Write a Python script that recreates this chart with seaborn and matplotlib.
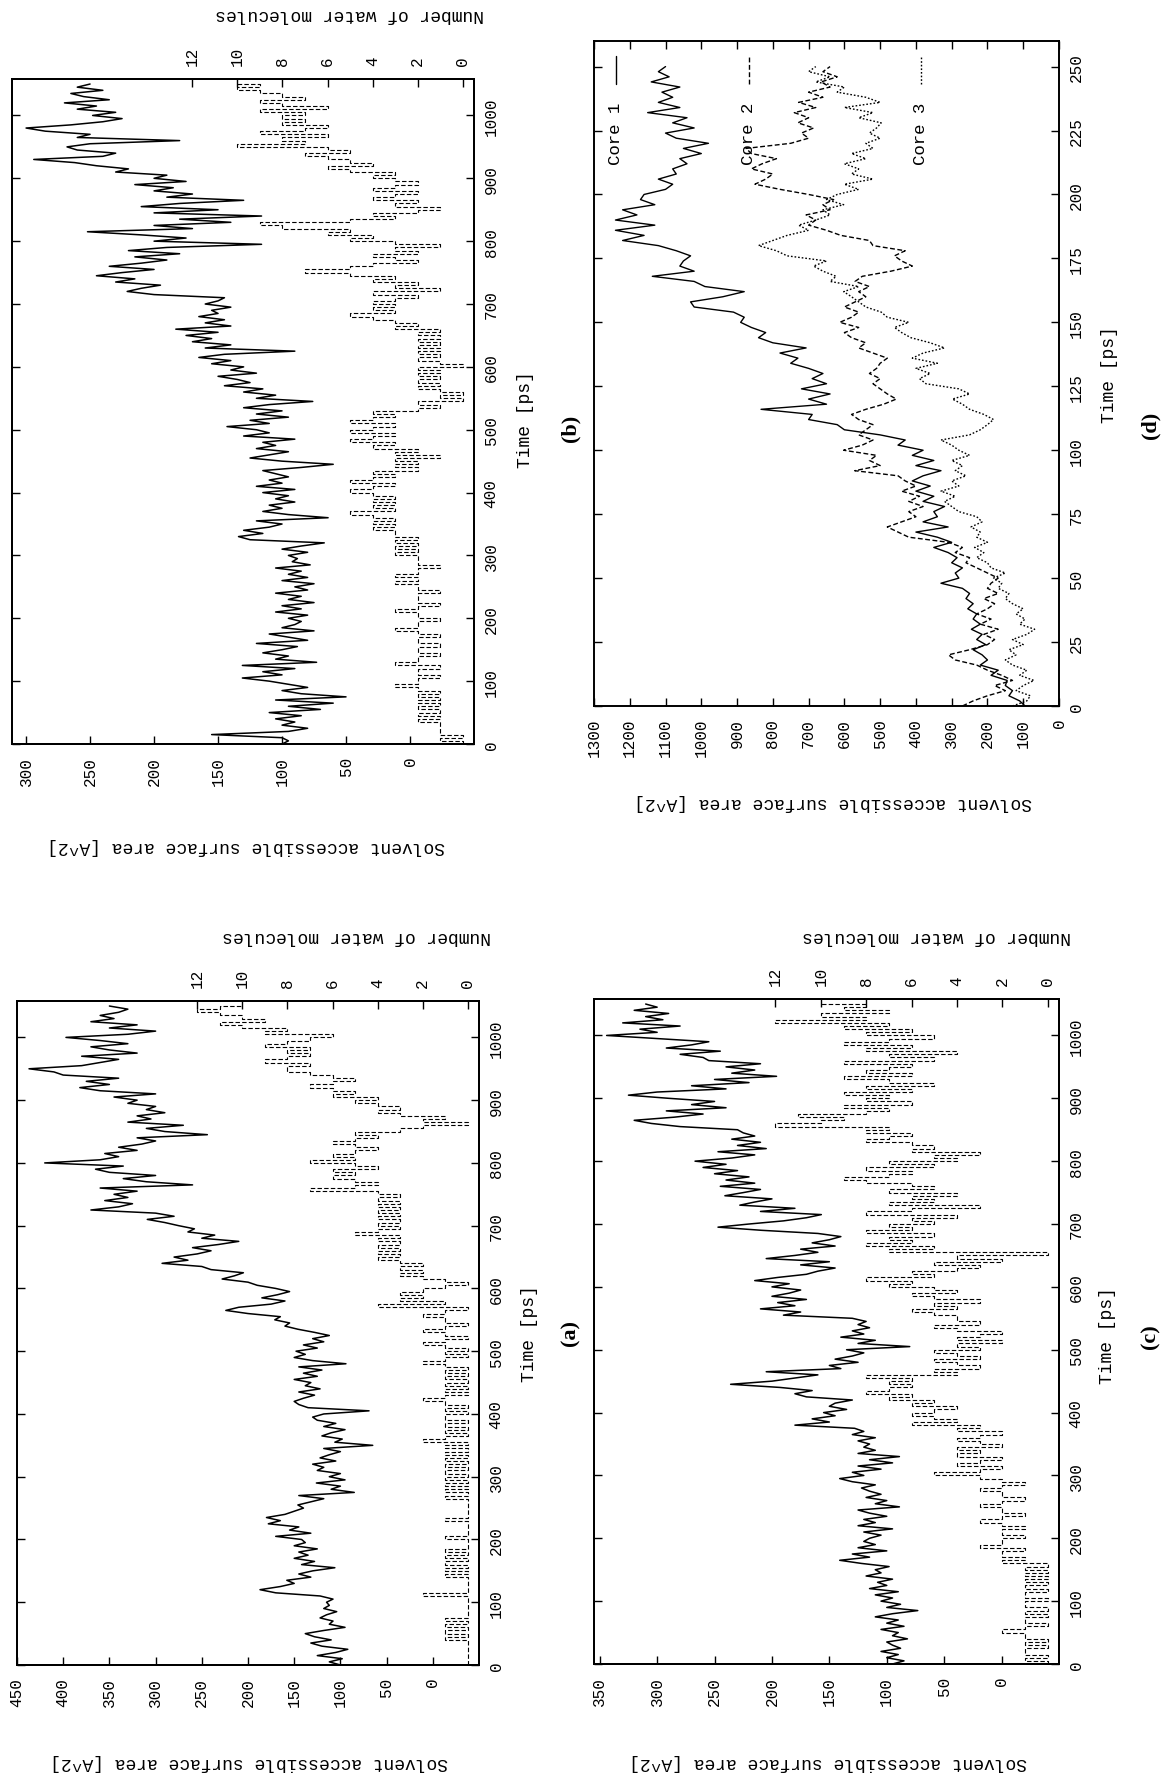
import numpy as np
import matplotlib
matplotlib.use("Agg")
import matplotlib.pyplot as plt
import seaborn as sns

# ---------------- data ----------------
STEP_ABC = 5      # ps between samples in panels a, b, c
STEP_D = 2        # ps between samples in panel d

SASA_A = [100,112,98,125,105,92,120,132,110,128,
          138,118,95,112,108,122,115,104,118,112,
          115,108,122,170,187,165,150,158,132,145,
          130,106,142,128,150,135,145,125,150,138,
          142,170,132,155,145,178,165,180,160,150,
          140,146,132,118,145,85,110,100,126,95,
          112,100,125,118,130,105,122,112,100,118,
          65,106,98,120,110,95,118,105,125,130,
          118,69,135,145,150,140,128,145,122,138,
          132,150,125,140,120,145,94,130,150,138,
          148,125,140,118,130,112,128,146,160,155,
          171,165,200,224,210,175,160,185,168,155,
          170,190,200,228,215,205,240,250,293,265,
          280,255,240,260,232,210,250,236,265,258,
          275,290,309,280,300,370,340,325,355,330,
          345,320,360,260,310,335,300,350,365,335,
          420,360,340,355,320,340,315,300,320,244,
          290,310,270,330,305,320,290,310,300,330,
          320,345,300,360,382,350,375,340,400,410,
          437,380,360,340,380,320,350,370,330,360,
          397,330,300,350,320,370,345,360,340,330,
          350]
WATER_A = [0,0,0,0,0,0,0,0,1,0,
           1,0,1,0,1,0,0,0,0,0,
           0,0,2,0,0,0,0,0,1,0,
           1,0,1,0,1,0,1,0,0,0,
           1,0,0,0,0,0,1,0,0,0,
           0,0,0,1,0,1,0,1,0,1,
           0,1,0,1,0,1,0,1,0,1,
           0,2,1,0,1,0,1,0,1,1,
           0,1,0,1,2,1,0,1,0,1,
           0,1,0,1,0,1,2,1,0,1,
           0,1,2,1,0,1,2,1,0,1,
           1,2,1,0,4,1,3,2,3,2,
           1,0,1,2,3,2,3,2,3,4,
           3,4,3,4,3,4,3,5,4,3,
           4,3,4,3,4,3,4,3,4,3,
           4,7,5,4,5,6,5,6,4,5,
           7,5,6,5,4,5,6,5,4,5,
           3,2,0,2,1,3,4,3,4,5,
           4,6,5,6,7,6,5,6,7,8,
           8,7,9,8,7,8,7,9,8,7,
           6,9,8,10,11,9,10,11,12,11,
           10]

SASA_B = [100,95,100,155,95,80,100,90,105,85,
          110,70,95,60,105,50,85,100,80,95,
          110,131,100,115,90,131,73,105,95,115,
          100,88,120,80,95,110,75,100,90,85,
          95,80,105,85,100,75,95,85,105,80,
          90,75,100,80,95,85,105,78,92,88,
          95,80,100,85,67,125,134,115,130,110,
          100,120,64,95,115,100,110,90,105,95,
          115,90,120,100,110,95,105,115,85,60,
          100,125,110,95,120,105,115,90,130,110,
          120,143,110,125,95,120,100,130,110,76,
          120,105,130,115,145,125,135,150,120,140,
          130,155,140,165,145,90,160,140,170,155,
          175,150,183,140,160,145,165,150,155,140,
          160,150,145,200,221,210,195,230,215,245,
          225,200,235,210,190,215,180,220,190,116,
          200,175,210,252,170,200,140,180,116,200,
          150,210,180,130,190,170,200,185,215,175,
          200,190,230,220,245,262,294,240,230,260,
          268,250,180,260,250,285,300,265,240,225,
          248,230,260,245,270,235,255,265,240,260,
          250]
WATER_B = [0,1,0,1,1,1,1,2,1,2,
           1,2,1,2,1,2,1,2,3,2,
           2,1,2,2,1,3,2,2,1,2,
           2,1,2,2,1,2,3,2,2,1,
           2,2,3,2,1,2,2,2,1,2,
           2,3,2,3,2,2,1,2,2,2,
           3,2,3,2,3,2,3,3,4,3,
           4,3,4,5,3,4,3,4,3,4,
           5,4,3,5,4,3,4,2,3,2,
           3,1,3,2,4,3,5,4,3,5,
           4,3,5,4,3,4,2,1,2,0,
           1,0,1,2,1,2,1,2,1,2,
           0,1,2,1,2,1,2,1,2,1,
           2,1,3,2,3,4,5,3,4,3,
           4,3,2,4,1,3,2,4,3,5,
           7,5,4,2,3,4,2,3,1,3,
           5,4,6,5,8,9,5,3,4,2,
           1,3,2,4,3,2,4,3,2,3,
           4,3,5,6,4,5,6,7,5,6,
           10,7,8,6,9,7,6,8,7,8,
           7,9,6,8,9,7,8,9,10,9,
           10]

SASA_C = [95,85,100,90,105,88,95,100,82,95,
          90,105,85,100,90,110,95,73,100,88,
          105,95,110,90,115,100,108,95,118,105,
          110,98,122,141,115,130,100,125,110,120,
          115,105,120,95,125,110,120,100,115,125,
          89,110,100,118,105,115,122,110,130,141,
          120,130,105,125,95,115,89,125,110,120,
          115,125,110,130,120,128,180,150,165,145,
          155,135,150,145,130,170,180,165,193,236,
          200,180,160,205,140,150,125,145,130,120,
          135,80,125,110,140,120,130,115,125,118,
          130,190,175,210,180,195,170,200,185,175,
          200,185,215,195,170,160,145,175,150,205,
          180,160,175,145,165,150,140,160,209,247,
          220,190,170,157,210,180,228,215,200,241,
          225,210,245,215,240,220,250,230,260,240,
          267,235,215,247,205,230,210,235,215,225,
          230,280,305,320,285,260,292,240,270,250,
          290,325,300,240,270,220,250,196,235,215,
          240,210,255,260,280,245,292,270,255,300,
          344,300,315,280,330,295,310,290,320,300,
          310]
WATER_C = [0,1,0,1,1,0,1,0,1,1,
           2,1,0,1,1,0,1,0,1,1,
           0,1,1,0,1,0,1,0,1,0,
           1,0,2,1,2,2,1,3,2,2,
           1,2,2,1,2,3,2,1,2,2,
           3,2,1,2,2,3,2,1,2,3,
           5,3,2,4,3,2,4,3,4,2,
           3,4,3,2,4,3,6,4,5,6,
           5,4,6,5,7,6,8,7,6,7,
           6,8,4,5,3,4,5,3,4,5,
           3,4,2,4,3,2,4,5,3,4,
           4,5,6,4,5,3,5,6,4,5,
           7,6,8,5,6,4,3,5,2,4,
           0,7,5,8,6,7,5,8,6,7,
           5,6,4,8,6,3,7,5,6,4,
           7,5,6,8,9,7,6,8,5,7,
           4,5,3,6,5,6,8,7,6,8,
           7,12,10,9,11,8,7,9,6,8,
           7,9,6,8,5,7,9,6,8,7,
           6,9,5,7,4,8,6,9,7,5,
           8,6,9,7,12,8,10,7,9,8,
           10]

CORE1 = [95,110,140,130,150, 145,190,170,220,200, 215,240,205,230,215,
         245,220,240,230,255, 240,260,250,270,330, 280,290,270,300,285,
         310,350,300,340,400, 310,380,340,350,320, 380,350,400,360,410,
         380,330,400,350,410, 380,450,430,500,600, 620,700,690,833,650,
         700,640,720,650,690, 660,700,750,730,780, 707,800,840,820,860,
         890,880,910,1020,1030, 940,880,990,1020,1137, 1020,1060,1050,1030,1070,
         1120,1220,1160,1240,1130, 1240,1180,1220,1130,1170, 1160,1100,1080,1120,1070,
         1080,1040,1060,1000,1050, 980,1070,1100,1020,1080, 1040,1150,1060,1120,1080,
         1110,1060,1140,1090,1120, 1100]
CORE2 = [270,240,200,150,180, 130,160,200,230,290, 309,250,200,180,210,
         170,220,190,230,200, 180,210,170,200,190, 170,200,230,260,250,
         290,270,309,420,450, 480,440,400,420,380, 420,390,440,400,430,
         450,571,500,530,510, 602,550,520,560,540, 520,560,580,540,490,
         455,480,500,520,500, 530,510,500,480,520, 560,540,580,600,560,
         613,580,560,600,570, 540,560,530,570,550, 470,410,440,460,430,
         520,530,610,650,700, 680,707,640,660,630, 700,780,850,820,800,
         860,830,790,860,875, 750,700,720,686,730, 700,740,680,728,660,
         700,640,665,620,660, 640]
CORE3 = [130,90,80,120,100, 70,110,90,130,150, 120,140,100,130,90,
         68,110,95,120,100, 130,150,140,170,160, 183,150,190,200,230,
         210,236,200,230,220, 246,215,230,280,300, 320,290,330,280,300,
         260,290,270,300,250, 280,300,330,250,220, 200,183,210,250,270,
         298,250,280,372,390, 360,400,340,410,380, 320,360,414,440,460,
         420,480,497,540,560, 580,602,560,640,623, 660,686,650,760,790,
         840,800,760,700,728, 680,640,660,602,650, 620,560,600,520,580,
         560,600,540,580,520, 540,500,530,510,497, 560,520,600,500,540,
         620,600,680,640,700, 680]

CORE_NAMES = ["Core 1", "Core 2", "Core 3"]

SASA_TICKS_A = list(range(0, 451, 50))
SASA_TICKS_B = list(range(0, 301, 50))
SASA_TICKS_C = list(range(0, 351, 50))
SASA_TICKS_D = list(range(0, 1301, 100))
TIME_TICKS_ABC = list(range(0, 1001, 100))
TIME_TICKS_D = list(range(0, 251, 25))
WATER_TICKS = list(range(0, 13, 2))

SASA_LABEL = "Solvent accessible surface area [A^2]"
WATER_LABEL = "Number of water molecules"
TIME_LABEL = "Time [ps]"

# ---------------- style ----------------
sns.set_style("white")
plt.rcParams["font.family"] = ["Liberation Mono", "DejaVu Sans Mono"]
plt.rcParams["axes.edgecolor"] = "black"
plt.rcParams["axes.linewidth"] = 1.4

W, H = 1165, 1781
fig = plt.figure(figsize=(W / 100, H / 100), dpi=100)
fig.patch.set_facecolor("white")

TICK_FS = 11.5
LABEL_FS = 13
SASA_LW = 1.1
WATER_LW = 0.8


def rect(x0, y0, x1, y1):
    return [x0 / W, 1 - y1 / H, (x1 - x0) / W, (y1 - y0) / H]


def ftext(x, y, s, **kw):
    fig.text(x / W, 1 - y / H, s, **kw)


def finish_axes(ax, sasa_lim, sasa_ticks, tmax, tticks, mirror_top):
    ax.set_xlim(sasa_lim[1], sasa_lim[0])
    ax.set_ylim(0, tmax)
    ax.set_xticks(sasa_ticks)
    ax.set_yticks(tticks)
    ax.set_xlabel("")
    ax.set_ylabel("")
    ax.grid(False)
    ax.tick_params(axis="x", which="both", direction="in", length=6, width=1.0,
                   bottom=True, top=mirror_top, labelbottom=True, labeltop=False,
                   pad=8.5, labelsize=TICK_FS, labelrotation=90, colors="black")
    ax.tick_params(axis="y", which="both", direction="in", length=6, width=1.0,
                   left=True, right=True, labelleft=False, labelright=True,
                   pad=7, labelsize=TICK_FS, labelrotation=90, colors="black")
    plt.setp(ax.get_yticklabels(), va="center", ha="left")
    plt.setp(ax.get_xticklabels(), va="top", ha="center")
    for s in ax.spines.values():
        s.set_linewidth(1.4)
        s.set_color("black")


def water_panel(r, time, sasa, water, sasa_lim, sasa_ticks, tmax):
    ax = fig.add_axes(r)
    ax.set_facecolor("white")
    sns.lineplot(x=sasa, y=time, orient="y", sort=False, estimator=None,
                 color="black", linewidth=SASA_LW, ax=ax)
    ax2 = ax.twiny()
    sns.lineplot(x=water, y=time, orient="y", sort=False, estimator=None,
                 color="black", linewidth=WATER_LW, linestyle=(0, (4, 2)),
                 drawstyle="steps-pre", ax=ax2)
    ax2.set_xlim(20, -0.5)
    ax2.set_xticks(WATER_TICKS)
    ax2.set_xlabel("")
    ax2.grid(False)
    ax2.tick_params(axis="x", direction="in", length=6, width=1.0, top=True,
                    bottom=False, labeltop=True, labelbottom=False, pad=10,
                    labelsize=TICK_FS, labelrotation=90, colors="black")
    plt.setp(ax2.get_xticklabels(), va="bottom", ha="center")
    for s in ax2.spines.values():
        s.set_linewidth(1.4)
        s.set_color("black")
    finish_axes(ax, sasa_lim, sasa_ticks, tmax, TIME_TICKS_ABC, False)
    return ax


time_a = np.arange(len(SASA_A)) * STEP_ABC
time_b = np.arange(len(SASA_B)) * STEP_ABC
time_c = np.arange(len(SASA_C)) * STEP_ABC
time_d = np.arange(len(CORE1)) * STEP_D

TMAX_ABC = 1058
TMAX_D = 260

# panel (b) - top left
water_panel(rect(12, 80, 474, 745), time_b, SASA_B, WATER_B, (-50, 311), SASA_TICKS_B, TMAX_ABC)
# panel (a) - bottom left
water_panel(rect(17, 1002, 479, 1666), time_a, SASA_A, WATER_A, (-50, 450), SASA_TICKS_A, TMAX_ABC)
# panel (c) - bottom right
water_panel(rect(594, 1000, 1059, 1665), time_c, SASA_C, WATER_C, (-50, 355), SASA_TICKS_C, TMAX_ABC)

# panel (d) - top right
axd = fig.add_axes(rect(594, 42, 1059, 707))
axd.set_facecolor("white")
core_styles = ["-", (0, (3.5, 1.8)), (0, (1.2, 1.4))]
for vals, ls in zip([CORE1, CORE2, CORE3], core_styles):
    sns.lineplot(x=vals, y=time_d, orient="y", sort=False, estimator=None,
                 color="black", linewidth=1.0, linestyle=ls, ax=axd)
finish_axes(axd, (0, 1300), SASA_TICKS_D, TMAX_D, TIME_TICKS_D, True)

# rotated key of panel (d): text positions in axes fractions
KEY_X = [0.047, 0.333, 0.703]
KEY_TEXT_BOTTOM = 0.815
KEY_LINE = (0.935, 0.978)
for name, kx, ls in zip(CORE_NAMES, KEY_X, core_styles):
    axd.text(kx, KEY_TEXT_BOTTOM, name, transform=axd.transAxes, rotation=90,
             ha="center", va="bottom", fontsize=12.5, color="black")
    axd.plot([kx, kx], list(KEY_LINE), transform=axd.transAxes, color="black",
             linewidth=1.0, linestyle=ls)

# ---------------- axis titles (rotated page) ----------------
lab = dict(fontsize=LABEL_FS, ha="center", va="center", color="black")
# (b)
ftext(246, 847, SASA_LABEL, rotation=180, **lab)
ftext(350, 15, WATER_LABEL, rotation=180, **lab)
ftext(525, 420, TIME_LABEL, rotation=90, **lab)
# (a)
ftext(249, 1763, SASA_LABEL, rotation=180, **lab)
ftext(357, 937, WATER_LABEL, rotation=180, **lab)
ftext(530, 1334, TIME_LABEL, rotation=90, **lab)
# (c)
ftext(828, 1763, SASA_LABEL, rotation=180, **lab)
ftext(937, 937, WATER_LABEL, rotation=180, **lab)
ftext(1107, 1336, TIME_LABEL, rotation=90, **lab)
# (d)
ftext(833, 803, SASA_LABEL, rotation=180, **lab)
ftext(1110, 375, TIME_LABEL, rotation=90, **lab)

pan = dict(fontsize=16, fontweight="bold", ha="center", va="center",
           family=["Liberation Serif", "DejaVu Serif"], rotation=90, color="black")
ftext(570, 428, "(b)", **pan)
ftext(570, 1333, "(a)", **pan)
ftext(1150, 1337, "(c)", **pan)
ftext(1150, 425, "(d)", **pan)

fig.savefig("out.png", dpi=100, facecolor="white")
